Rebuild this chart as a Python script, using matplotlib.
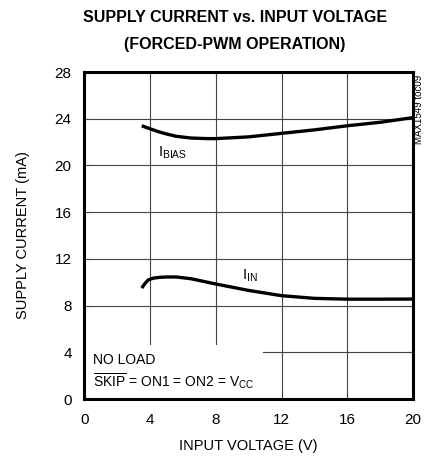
import matplotlib.pyplot as plt
from matplotlib.patches import Rectangle
from matplotlib import font_manager

# pick a narrow sans if there is one
names = set(f.name for f in font_manager.fontManager.ttflist)
fam = 'Liberation Sans Narrow' if 'Liberation Sans Narrow' in names else 'Liberation Sans'
plt.rcParams['font.family'] = [fam, 'DejaVu Sans']
plt.rcParams['mathtext.fontset'] = 'custom'
plt.rcParams['mathtext.rm'] = fam

# data
vin_bias = [3.5, 4.0, 4.5, 5.0, 5.6, 6.5, 7.5, 8.0, 10.0, 12.0, 14.0, 16.0, 18.0, 20.0]
i_bias = [23.4, 23.15, 22.9, 22.7, 22.5, 22.35, 22.3, 22.3, 22.45, 22.75, 23.05, 23.4, 23.7, 24.1]
vin_in = [3.5, 3.7, 3.9, 4.2, 4.6, 5.0, 5.6, 6.5, 8.0, 10.0, 12.0, 14.0, 16.0, 18.0, 20.0]
i_in = [9.5, 9.9, 10.2, 10.35, 10.42, 10.45, 10.45, 10.3, 9.85, 9.3, 8.85, 8.62, 8.55, 8.55, 8.56]

xticks = [0, 4, 8, 12, 16, 20]
yticks = [0, 4, 8, 12, 16, 20, 24, 28]

fig = plt.figure(figsize=(4.25, 4.59), dpi=100)
ax = fig.add_axes([0.198, 0.1307, 0.774, 0.7123])

ax.set_xlim(0, 20)
ax.set_ylim(0, 28)
ax.set_xticks(xticks)
ax.set_yticks(yticks)
ax.grid(True, color='#444444', linewidth=0.8, zorder=1)
ax.tick_params(direction='in', length=4, width=0.8, labelsize=11,
               top=True, right=True, color='#444444')
ax.tick_params(axis='x', pad=10)
ax.tick_params(axis='y', pad=9)
for s in ax.spines.values():
    s.set_linewidth(2.2)
    s.set_zorder(5)

# white box behind the note hides the grid there
ax.add_patch(Rectangle((0, 0), 10.9, 4.6, facecolor='white', edgecolor='none', zorder=2))

ax.plot(vin_bias, i_bias, color='black', linewidth=2.4, zorder=4, solid_capstyle='butt')
ax.plot(vin_in, i_in, color='black', linewidth=2.4, zorder=4, solid_capstyle='butt')

ax.text(4.5, 21.1, r'I$_{\mathrm{BIAS}}$', fontsize=10.5, ha='left', va='center', zorder=4)
ax.text(9.6, 10.6, r'I$_{\mathrm{IN}}$', fontsize=10.5, ha='left', va='center', zorder=4)

ax.text(0.55, 3.3, 'NO LOAD', fontsize=10, ha='left', va='center', zorder=4)
ax.text(0.55, 1.5, r'$\overline{\mathrm{SKIP}}$ = ON1 = ON2 = V$_{\mathrm{CC}}$', fontsize=10,
        ha='left', va='center', zorder=4)

ax.set_xlabel('INPUT VOLTAGE (V)', fontsize=10.5, labelpad=9)
ax.set_ylabel('SUPPLY CURRENT (mA)', fontsize=10.5, labelpad=18)

fig.text(0.553, 0.962, 'SUPPLY CURRENT vs. INPUT VOLTAGE', fontsize=11.5, fontweight='bold',
         ha='center', va='center')
fig.text(0.553, 0.903, '(FORCED-PWM OPERATION)', fontsize=11.5, fontweight='bold',
         ha='center', va='center')
fig.text(0.985, 0.762, 'MAX1549 toc09', fontsize=7, rotation=90, ha='center', va='center')

fig.savefig('out.png', dpi=100)
